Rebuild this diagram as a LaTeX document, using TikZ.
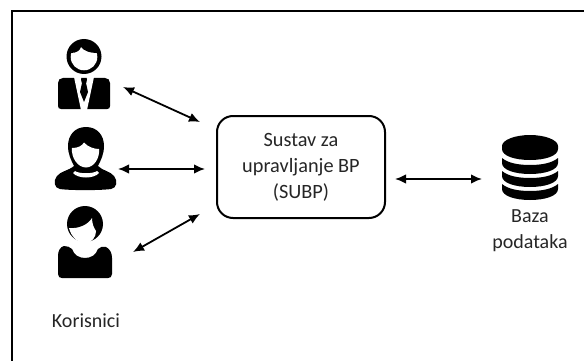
\documentclass[tikz,border=0pt]{standalone}
\usepackage{fontspec}
\setmainfont{Carlito}
\usetikzlibrary{arrows.meta}
\tikzset{
  conn/.style={line width=1.8pt,{Latex[length=11pt,width=9.5pt]}-{Latex[length=11pt,width=9.5pt]}},
  lbl/.style={font=\fontsize{20}{26}\selectfont,text=black!85,align=center,inner sep=0pt},
  frameline/.style={line width=2pt,draw=black},
  sysbox/.style={draw=black,line width=2pt,rounded corners=16pt,minimum width=168pt,minimum height=102pt,align=center,inner sep=0pt,font=\fontsize{20.3}{26}\selectfont,text=black!85}
}
\begin{document}
\begin{tikzpicture}[x=1pt,y=-1pt]
\useasboundingbox (0,0) rectangle (584,361);
\fill[white] (0,0) rectangle (584,361);
% frame
\draw[frameline] (12,361) -- (12,11) -- (584,11);
% user 1
\fill (84,56.5) circle (17.5);
\fill[white] (84,57) circle (13.3);
\fill (71,53) .. controls (77,53) and (80,50) .. (81,47) .. controls (84,51) and (90,53) .. (97,53) .. controls (96,44) and (90,42) .. (84,42) .. controls (77,42) and (72,46) .. (71,53) -- cycle;
\fill (63,78) -- (105,78) .. controls (108,78) and (110,80) .. (110,83) -- (110,106) .. controls (110,108) and (109,109) .. (107,109) -- (61,109) .. controls (59,109) and (58,108) .. (58,106) -- (58,83) .. controls (58,80) and (60,78) .. (63,78) -- cycle;
\fill[white] (74,77) -- (81,77) -- (84,100) -- (87,77) -- (94,77) -- (87,110) -- (81,110) -- cycle;
\fill (81,79) -- (87,79) -- (86,83) -- (88,92) -- (84,102) -- (80,92) -- (82,83) -- cycle;
% user 2
\fill (86,127) .. controls (97,127) and (104,135) .. (104,146) .. controls (104,154) and (101,160) .. (98,166) .. controls (103,171) and (110,171) .. (114,176) .. controls (118,181) and (117,188) .. (111,189) .. controls (100,190.5) and (70,190.5) .. (60,189) .. controls (54,188) and (53,181) .. (57,176) .. controls (61,171) and (68,171) .. (74,166) .. controls (71,160) and (68,154) .. (68,146) .. controls (68,135) and (75,127) .. (86,127) -- cycle;
\fill[white] (72,148) .. controls (78,148) and (82,146) .. (84,142.5) .. controls (88,147) and (94,149) .. (99,149) .. controls (100,158) and (94,167.5) .. (86,167.5) .. controls (78,167.5) and (71,158) .. (72,148) -- cycle;
\fill[white] (75,171) .. controls (79,174) and (93,174) .. (97,171) -- (99,173) .. controls (94,179) and (78,179) .. (73,173) -- cycle;
% user 3
\fill (85,224) circle (18);
\fill[white] (69,228) .. controls (78,229) and (88,225) .. (92,218) .. controls (92,224) and (94,228) .. (96,231) .. controls (96,237) and (92,243) .. (85,243) .. controls (77,243) and (71,236) .. (69,228) -- cycle;
\fill (64,246) .. controls (67,246) and (70,247) .. (72,249) .. controls (74,255) and (79,258) .. (85,258) .. controls (91,258) and (96,255) .. (98,249) .. controls (100,247) and (103,246) .. (106,247) .. controls (110,249) and (112,253) .. (112,258) -- (112,274) .. controls (112,277) and (110,278) .. (108,278) -- (62,278) .. controls (60,278) and (58,277) .. (58,274) -- (58,256) .. controls (58,251) and (60,247) .. (64,246) -- cycle;
% database
\fill (502,146) .. controls (502,140) and (515,135) .. (530,135) .. controls (545,135) and (558,140) .. (558,146) -- (558,149) .. controls (558,156) and (545,160) .. (530,160) .. controls (515,160) and (502,156) .. (502,149) -- cycle;
\fill (502,158) .. controls (508,163) and (518,165) .. (530,165) .. controls (542,165) and (552,163) .. (558,158) -- (558,163) .. controls (558,170) and (545,174) .. (530,174) .. controls (515,174) and (502,170) .. (502,163) -- cycle;
\fill (502,171) .. controls (508,176) and (518,178) .. (530,178) .. controls (542,178) and (552,176) .. (558,171) -- (558,176) .. controls (558,183) and (545,187) .. (530,187) .. controls (515,187) and (502,183) .. (502,176) -- cycle;
\fill (502,184) .. controls (508,189) and (518,191) .. (530,191) .. controls (542,191) and (552,189) .. (558,184) -- (558,189) .. controls (558,196) and (545,200) .. (530,200) .. controls (515,200) and (502,196) .. (502,189) -- cycle;
% system box
\node[sysbox] (sys) at (301,167) {Sustav za\\upravljanje BP\\(SUBP)};
% anchor coordinates
\coordinate (u1) at (123,87);
\coordinate (s1) at (200,122);
\coordinate (u2) at (118,169);
\coordinate (s2) at (205,169);
\coordinate (u3) at (133,252);
\coordinate (s3) at (200,214);
\coordinate (s4) at (395,179);
\coordinate (db) at (482,179);
\draw[conn] (u1) -- (s1);
\draw[conn] (u2) -- (s2);
\draw[conn] (u3) -- (s3);
\draw[conn] (s4) -- (db);
% labels
\node[lbl] (baza) at (530,231) {Baza\\podataka};
\node[lbl] (kor) at (86,321) {Korisnici};
\end{tikzpicture}
\end{document}
